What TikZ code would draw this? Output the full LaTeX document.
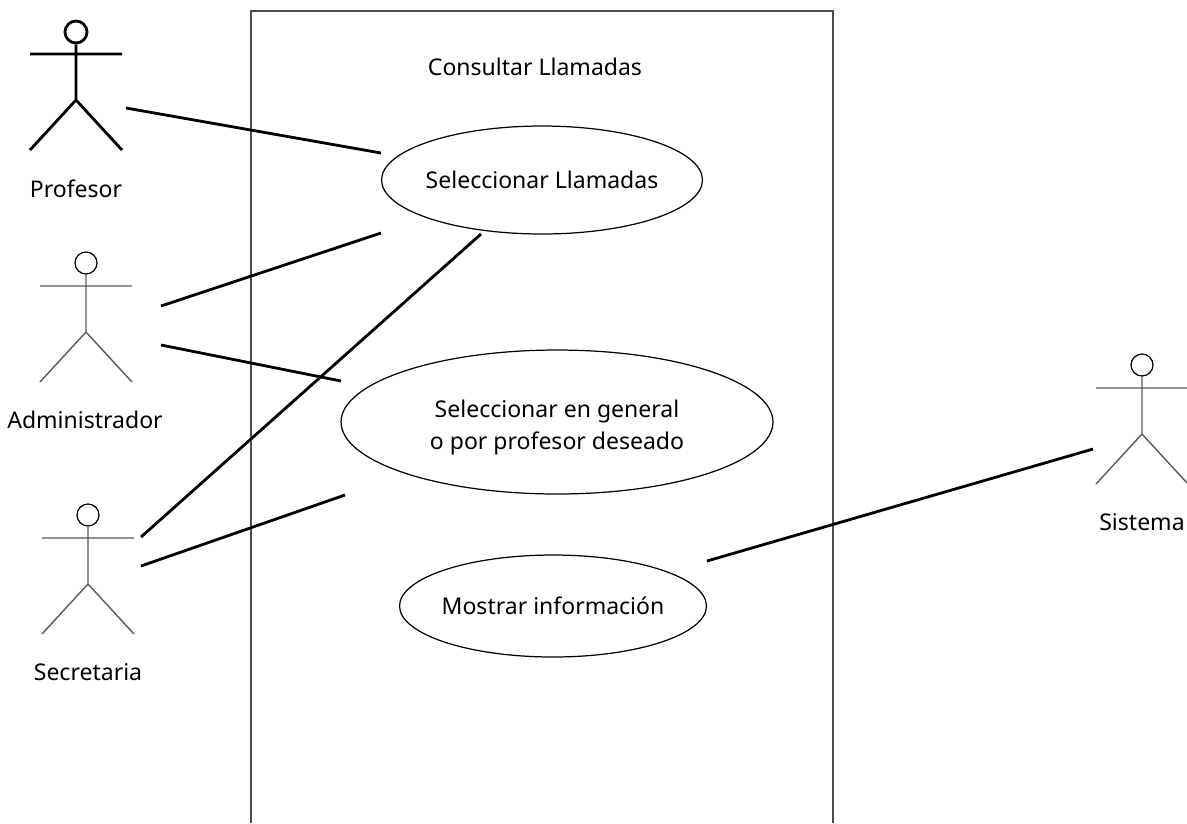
\documentclass[tikz,border=0pt]{standalone}
\usepackage{fontspec}
\setmainfont{Noto Sans}
\usetikzlibrary{calc, positioning, shapes.geometric}

\begin{document}
\begin{tikzpicture}[x = .02cm, y = -.02cm,
  usecase/.style = {draw, ellipse, inner sep = 0pt, inner xsep = -.5cm, line width = .7pt, font = \fontsize{13.1}{18}\selectfont, align = center},
  label/.style = {font = \fontsize{13.1}{18}\selectfont},
  head/.style = {draw, circle, inner sep = 0pt, minimum size = .44cm},
  link/.style = {line width = 1.6pt},
  actor/.style = {line width = .8pt, draw = black!65},
  thickactor/.style = {line width = 1.6pt}]
\useasboundingbox (0,0) rectangle (1187,823);
\path[draw, line width = .9pt, draw = black!70] (251,823) -- (251,11) -- (833,11) -- (833,823);
\node[label] (title) at (535,67) {Consultar Llamadas};
\node[usecase, minimum width = 6.42cm, minimum height = 2.16cm] (sel) at (542,180) {Seleccionar Llamadas};
\node[usecase, minimum width = 8.64cm, minimum height = 2.88cm] (gen) at (557,422) {\rule{0pt}{16pt}Seleccionar en general\\o por profesor deseado};
\node[usecase, minimum width = 6.14cm, minimum height = 2.04cm] (mos) at (553,606) {Mostrar información};
% actors
\node[head, thickactor] (profh) at (76,32) {};
\node[label] (prof) at (76,189) {Profesor};
\draw[thickactor] (profh) -- (76,100) (30,54) -- (122,54) (30,150) -- (76,100) -- (122,150);
\node[head, line width = .7pt] (admh) at (86,263) {};
\node[label] (adm) at (85,420) {Administrador};
\draw[actor] (admh) -- (86,332) (40,286) -- (132,286) (40,382) -- (86,332) -- (132,382);
\node[head, line width = .7pt] (sech) at (88,515) {};
\node[label] (sec) at (88,672) {Secretaria};
\draw[actor] (sech) -- (88,584) (42,538) -- (134,538) (42,634) -- (88,584) -- (134,634);
\node[head, line width = .7pt] (sish) at (1142,365) {};
\node[label] (sis) at (1142,522) {Sistema};
\draw[actor] (sish) -- (1142,434) (1096,388) -- (1188,388) (1096,484) -- (1142,434) -- (1188,484);
% free ends of the lines
\coordinate (p1) at (126,108);
\coordinate (s1) at (381,153);
\coordinate (a1) at (161,306);
\coordinate (s2) at (381,233);
\coordinate (a2) at (161,345);
\coordinate (g1) at (341,381);
\coordinate (c1) at (141,537);
\coordinate (s3) at (481,234);
\coordinate (c2) at (141,566);
\coordinate (g2) at (345,495);
\coordinate (m1) at (707,561);
\coordinate (i1) at (1093,449);
\draw[link] (p1) -- (s1);
\draw[link] (a1) -- (s2);
\draw[link] (a2) -- (g1);
\draw[link] (c1) -- (s3);
\draw[link] (c2) -- (g2);
\draw[link] (m1) -- (i1);
\end{tikzpicture}
\end{document}
